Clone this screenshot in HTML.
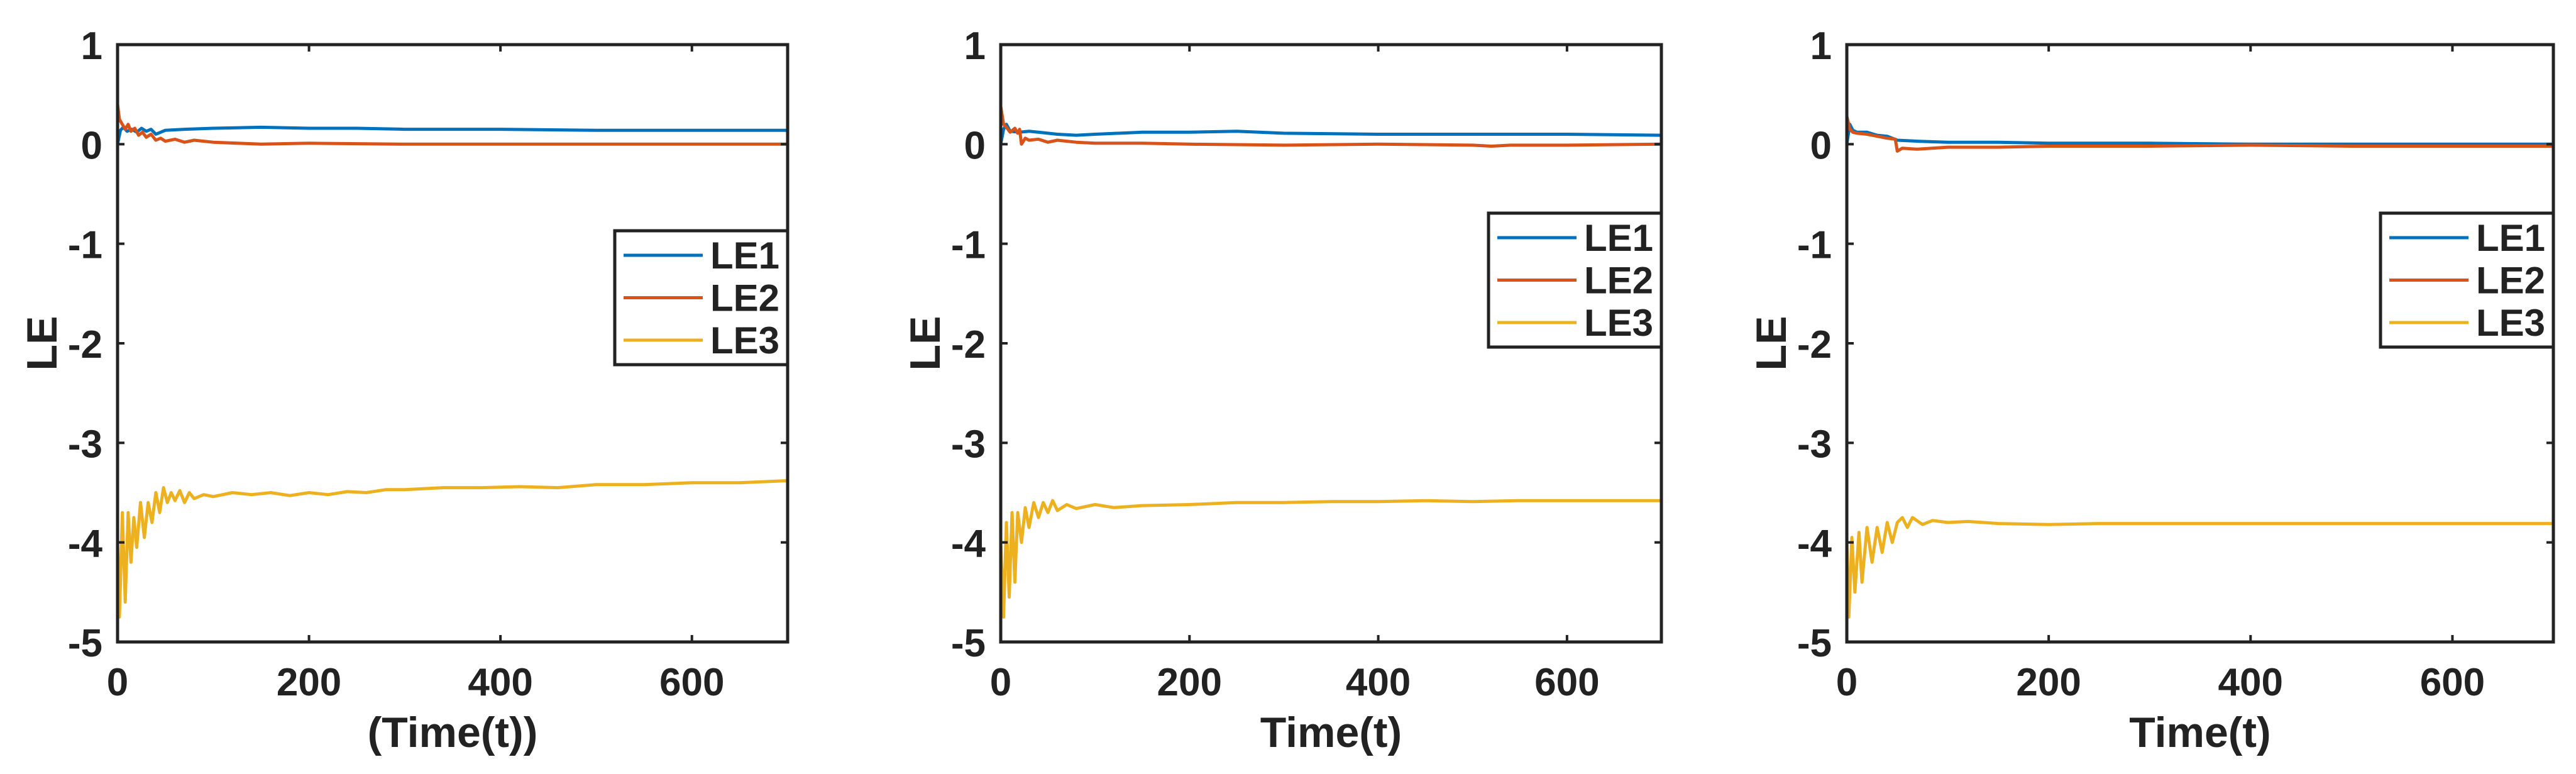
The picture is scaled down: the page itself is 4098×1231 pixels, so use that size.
<!DOCTYPE html>
<html><head><meta charset="utf-8"><style>
html,body{margin:0;padding:0;background:#fff;}
svg{display:block;}
text{font-family:"Liberation Sans",Arial,sans-serif;font-weight:bold;fill:#222;}
</style></head><body>
<svg id="fig" width="4098" height="1231" viewBox="0 0 4098 1231" xmlns="http://www.w3.org/2000/svg"></svg>
<script>
// ---- data ----
const xTicks = [0, 200, 400, 600];
const yTicks = [1, 0, -1, -2, -3, -4, -5];
const seriesNames = ["LE1", "LE2", "LE3"];
const xTitles = ["(Time(t))", "Time(t)", "Time(t)"];

// panel 1
const p1t1 = [0,3,6,10,15,20,25,30,35,40,50,70,100,150,200,250,300,400,500,600,700];
const p1le1 = [0,0.14,0.17,0.13,0.15,0.12,0.16,0.13,0.15,0.1,0.14,0.15,0.16,0.17,0.16,0.16,0.15,0.15,0.14,0.14,0.14];
const p1t2 = [0,2,5,8,11,14,18,22,26,30,35,40,45,50,60,70,80,100,150,200,300,400,500,600,700];
const p1le2 = [0.4,0.25,0.2,0.15,0.2,0.13,0.16,0.09,0.12,0.07,0.1,0.04,0.06,0.03,0.05,0.02,0.04,0.02,0.0,0.01,0.0,0.0,0.0,0.0,0.0];
const p1t3 = [0,2,5,8,11,14,17,20,24,28,32,36,40,44,48,52,56,60,65,70,75,80,90,100,120,140,160,180,200,220,240,260,280,300,340,380,420,460,500,550,600,650,700];
const p1le3 = [-4.0,-4.75,-3.7,-4.6,-3.7,-4.2,-3.75,-4.05,-3.6,-3.95,-3.6,-3.8,-3.5,-3.7,-3.45,-3.6,-3.5,-3.58,-3.48,-3.6,-3.5,-3.56,-3.52,-3.54,-3.5,-3.52,-3.5,-3.53,-3.5,-3.52,-3.49,-3.5,-3.47,-3.47,-3.45,-3.45,-3.44,-3.45,-3.42,-3.42,-3.4,-3.4,-3.38];

// panel 2
const p2t1 = [0,3,6,10,20,30,40,60,80,100,150,200,250,300,400,500,600,700];
const p2le1 = [0,0.15,0.2,0.13,0.12,0.13,0.12,0.1,0.09,0.1,0.12,0.12,0.13,0.11,0.1,0.1,0.1,0.09];
const p2t2 = [0,3,6,10,15,18,20,22,26,30,40,50,60,80,100,150,200,300,400,500,520,540,600,700];
const p2le2 = [0.38,0.2,0.17,0.12,0.16,0.11,0.15,0.0,0.06,0.04,0.05,0.02,0.04,0.02,0.01,0.01,0.0,-0.01,0.0,-0.01,-0.02,-0.01,-0.01,0.0];
const p2t3 = [0,3,6,9,12,15,18,22,26,30,35,40,45,50,55,60,70,80,100,120,150,200,250,300,350,400,450,500,550,600,650,700];
const p2le3 = [-4.0,-4.75,-3.8,-4.55,-3.7,-4.4,-3.7,-4.0,-3.65,-3.85,-3.6,-3.75,-3.6,-3.7,-3.58,-3.68,-3.62,-3.66,-3.62,-3.65,-3.63,-3.62,-3.6,-3.6,-3.59,-3.59,-3.58,-3.59,-3.58,-3.58,-3.58,-3.58];

// panel 3
const p3t1 = [0,3,6,10,20,30,40,50,70,100,150,200,300,400,500,600,700];
const p3le1 = [0,0.2,0.14,0.12,0.12,0.09,0.08,0.04,0.03,0.02,0.02,0.01,0.01,0.0,0.0,0.0,0.0];
const p3t2 = [0,3,6,10,20,30,40,48,50,55,70,100,150,200,300,400,500,600,700];
const p3le2 = [0.28,0.15,0.12,0.11,0.1,0.08,0.06,0.05,-0.07,-0.04,-0.05,-0.03,-0.03,-0.02,-0.02,-0.01,-0.02,-0.02,-0.02];
const p3t3 = [0,2,5,8,12,15,20,25,30,35,40,45,50,55,60,65,75,85,100,120,150,200,250,300,400,500,600,700];
const p3le3 = [-4.0,-4.75,-3.95,-4.5,-3.9,-4.4,-3.85,-4.2,-3.85,-4.1,-3.8,-4.0,-3.8,-3.75,-3.85,-3.75,-3.82,-3.78,-3.8,-3.79,-3.81,-3.82,-3.81,-3.81,-3.81,-3.81,-3.81,-3.81];

const colors = ["#0072BD", "#D95319", "#EDB120"];
const panels = [
  {l:187, r:1253, legL:978, legT:367, series:[[p1t1,p1le1],[p1t2,p1le2],[p1t3,p1le3]]},
  {l:1592, r:2643, legL:2368, legT:339, series:[[p2t1,p2le1],[p2t2,p2le2],[p2t3,p2le3]]},
  {l:2938, r:4062, legL:3787, legT:339, series:[[p3t1,p3le1],[p3t2,p3le2],[p3t3,p3le3]]}
];
const TOP = 71, BOT = 1021, XMAX = 700, YMIN = -5, YMAX = 1;
const NS = "http://www.w3.org/2000/svg";
const svg = document.getElementById("fig");
function mk(tag, attrs, parent) {
  const e = document.createElementNS(NS, tag);
  for (const k in attrs) e.setAttribute(k, attrs[k]);
  (parent || svg).appendChild(e);
  return e;
}
panels.forEach((p, pi) => {
  const g = mk("g", {});
  
  
  const xs = v => p.l + (v / XMAX) * (p.r - p.l);
  const ys = v => TOP + (YMAX - v) / (YMAX - YMIN) * (BOT - TOP);
  // series
  p.series.forEach((s, si) => {
    const d = s[0].map((t, i) => (i ? "L" : "M") + xs(t).toFixed(1) + "," + ys(s[1][i]).toFixed(1)).join(" ");
    const path = mk("path", {d: d, fill: "none", stroke: colors[si], "stroke-width": 5, "stroke-linejoin": "round"}, g);
    
    
  });
  // ticks
  xTicks.forEach(v => {
    const x = xs(v);
    mk("line", {x1:x, x2:x, y1:BOT, y2:BOT-11, stroke:"#222", "stroke-width":4}, g);
    mk("line", {x1:x, x2:x, y1:TOP, y2:TOP+11, stroke:"#222", "stroke-width":4}, g);
    const t = mk("text", {x:x, y:1106, "font-size":62, "text-anchor":"middle"}, g);
    t.textContent = v;
    
    
  });
  yTicks.forEach(v => {
    const y = ys(v);
    mk("line", {x1:p.l, x2:p.l+11, y1:y, y2:y, stroke:"#222", "stroke-width":4}, g);
    mk("line", {x1:p.r, x2:p.r-11, y1:y, y2:y, stroke:"#222", "stroke-width":4}, g);
    const t = mk("text", {x:p.l-24, y:y+23, "font-size":62, "text-anchor":"end"}, g);
    t.textContent = v;
    
    
  });
  const box = mk("rect", {x:p.l, y:TOP, width:p.r-p.l, height:BOT-TOP, fill:"none", stroke:"#222", "stroke-width":5}, g);
  
  
  const xt = mk("text", {x:(p.l+p.r)/2, y:1188, "font-size":68, "text-anchor":"middle"}, g);
  xt.textContent = xTitles[pi];
  
  
  const yt = mk("text", {x:0, y:0, "font-size":68, "text-anchor":"middle", transform:"translate(" + (p.l-97) + "," + ((TOP+BOT)/2) + ") rotate(-90)"}, g);
  yt.textContent = "LE";
  
  
  // legend
  const lg = mk("g", {}, g);
  
  
  mk("rect", {x:p.legL, y:p.legT, width:p.r-p.legL, height:213, fill:"#fff", stroke:"#222", "stroke-width":5}, lg);
  seriesNames.forEach((n, si) => {
    const y = p.legT + 39 + si * 67.5;
    const ln = mk("line", {x1:p.legL+14, x2:p.legL+140, y1:y, y2:y, stroke:colors[si], "stroke-width":5}, lg);
    
    
    const t = mk("text", {x:p.legL+152, y:y+21, "font-size":60}, lg);
    t.textContent = n;
    
    
  });
});
</script>
</body></html>
